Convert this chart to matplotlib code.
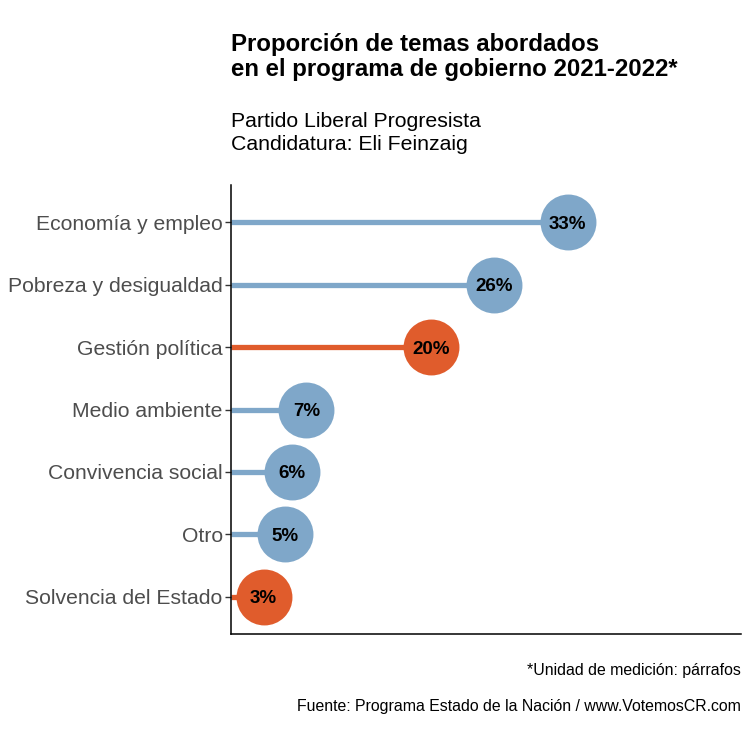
import matplotlib.pyplot as plt

plt.rcParams['font.family'] = ['Liberation Sans', 'DejaVu Sans']

temas = ['Economía y empleo', 'Pobreza y desigualdad', 'Gestión política',
         'Medio ambiente', 'Convivencia social', 'Otro', 'Solvencia del Estado']
valores = [33.0, 25.8, 19.6, 7.4, 6.0, 5.3, 3.2]
etiquetas = ['33%', '26%', '20%', '7%', '6%', '5%', '3%']
destacado = [False, False, True, False, False, False, True]

azul = '#7fa7c9'
naranja = '#e05c2c'

fig = plt.figure(figsize=(7.5, 7.38), dpi=100)
ax = fig.add_axes([231/750, 1 - 634/738, (741-231)/750, (634-185)/738])

n = len(temas)
ys = [n - i for i in range(n)]
for y, v, lab, d in zip(ys, valores, etiquetas, destacado):
    c = naranja if d else azul
    ax.plot([0, v], [y, y], color=c, lw=3.8, solid_capstyle='butt', zorder=1)
    ax.scatter([v], [y], s=1620, color=c, zorder=2, linewidths=0)
    ax.text(v, y - 0.03, lab, ha='center', va='center', fontsize=13.5,
            fontweight='bold', color='black', zorder=3)

ax.set_xlim(0, 50)
ax.set_ylim(0.4, n + 0.6)
ax.set_yticks(ys)
ax.set_yticklabels(temas, fontsize=15.2, color='#4d4d4d')
ax.set_xticks([])
ax.tick_params(axis='y', length=4, width=1, color='#333333', pad=2)
for s in ['top', 'right']:
    ax.spines[s].set_visible(False)
for s in ['left', 'bottom']:
    ax.spines[s].set_linewidth(1.1)
    ax.spines[s].set_color('black')

fig.text(231/750, 1 - 57/738, 'Proporción de temas abordados\nen el programa de gobierno 2021-2022*',
         fontsize=17.3, fontweight='bold', ha='left', va='center', linespacing=1.1)
fig.text(231/750, 1 - 133/738, 'Partido Liberal Progresista\nCandidatura: Eli Feinzaig',
         fontsize=15.3, ha='left', va='center', linespacing=1.22)
fig.text(741/750, 1 - 670/738, '*Unidad de medición: párrafos',
         fontsize=11.4, ha='right', va='center')
fig.text(741/750, 1 - 707/738, 'Fuente: Programa Estado de la Nación / www.VotemosCR.com',
         fontsize=11.4, ha='right', va='center')

fig.savefig('out.png', dpi=100)
